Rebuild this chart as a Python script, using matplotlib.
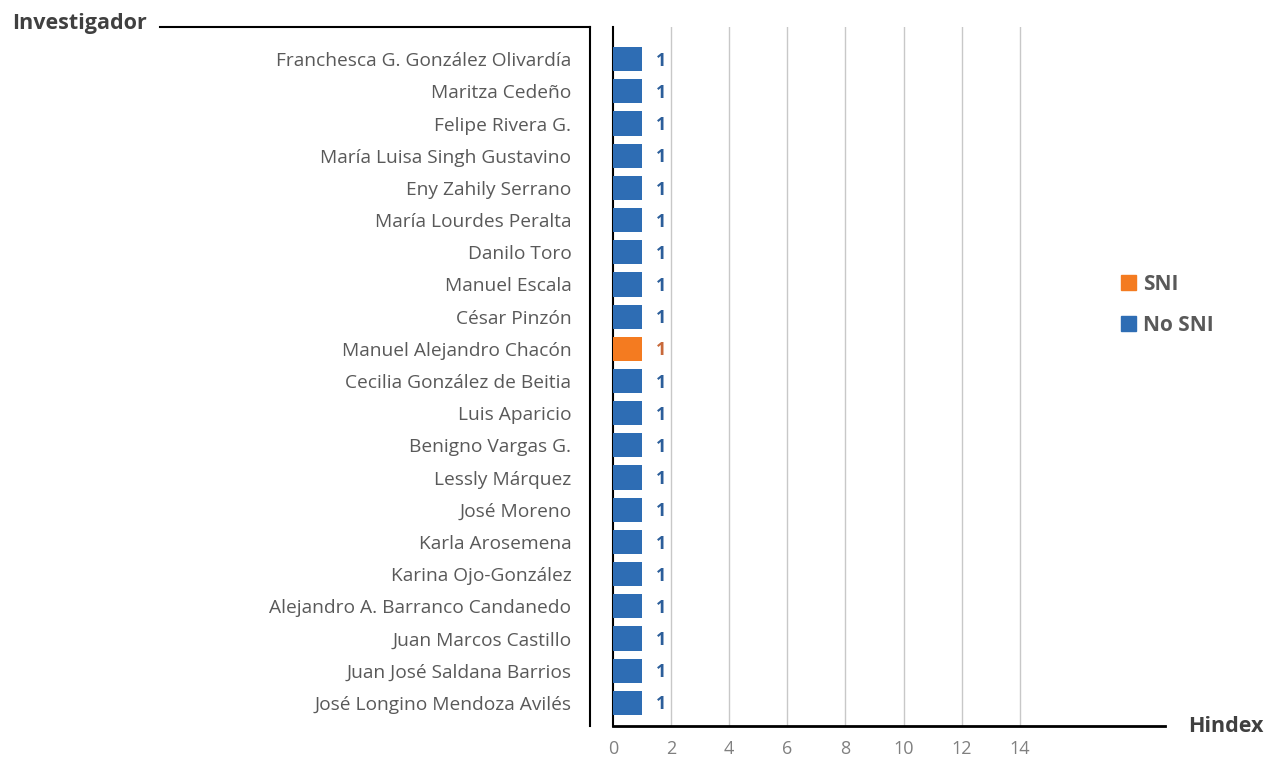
import numpy as np
import matplotlib.pyplot as plt
from matplotlib.lines import Line2D
from matplotlib.patches import Patch

# Datos: investigadores (de arriba hacia abajo), índice H y pertenencia al SNI
investigadores = [
    "Franchesca G. González Olivardía",
    "Maritza Cedeño",
    "Felipe Rivera G.",
    "María Luisa Singh Gustavino",
    "Eny Zahily Serrano",
    "María Lourdes Peralta",
    "Danilo Toro",
    "Manuel Escala",
    "César Pinzón",
    "Manuel Alejandro Chacón",
    "Cecilia González de Beitia",
    "Luis Aparicio",
    "Benigno Vargas G.",
    "Lessly Márquez",
    "José Moreno",
    "Karla Arosemena",
    "Karina Ojo-González",
    "Alejandro A. Barranco Candanedo",
    "Juan Marcos Castillo",
    "Juan José Saldana Barrios",
    "José Longino Mendoza Avilés",
]
hindex = [1, 1, 1, 1, 1, 1, 1, 1, 1, 1, 1, 1, 1, 1, 1, 1, 1, 1, 1, 1, 1]
sni = [False, False, False, False, False, False, False, False, False, True,
       False, False, False, False, False, False, False, False, False, False, False]
xticks = [0, 2, 4, 6, 8, 10, 12, 14]

plt.rcParams['font.family'] = ['Open Sans', 'DejaVu Sans']

azul = '#2E6DB4'
naranja = '#F47B20'
azul_txt = '#2C5E9A'
naranja_txt = '#C8693A'

fig = plt.figure(figsize=(12.66, 7.59), dpi=100)
ax = fig.add_axes([613 / 1266, 1 - 726 / 759, (1165 - 613) / 1266, (726 - 27) / 759])

y = np.arange(len(investigadores))
colores = [naranja if s else azul for s in sni]
ax.barh(y, hindex, height=0.75, color=colores, zorder=3)

for yi, v, s in zip(y, hindex, sni):
    ax.text(v + 0.65, yi + 0.05, str(v), ha='center', va='center', fontsize=13,
            fontweight='bold', color=naranja_txt if s else azul_txt, zorder=4)

ax.set_xlim(0, 19)
ax.set_ylim(20.72, -1.0)
ax.set_yticks(y)
ax.set_yticklabels(investigadores, fontsize=13.8, color='#595959')
ax.tick_params(axis='y', length=0, pad=30)
ax.set_xticks(xticks)
ax.set_xticklabels([str(t) for t in xticks], fontsize=13, color='#808080')
ax.tick_params(axis='x', length=0, pad=10)

for t in xticks[1:]:
    ax.axvline(t, color='#C8C8C8', lw=1, zorder=1)

for s in ['top', 'right']:
    ax.spines[s].set_visible(False)
ax.spines['left'].set_linewidth(1.5)
ax.spines['bottom'].set_linewidth(2)
ax.spines['left'].set_color('black')
ax.spines['bottom'].set_color('black')

# Corchete del título del eje Y
W, H = 1266, 759
fig.add_artist(Line2D([160 / W, 590 / W], [1 - 27 / H, 1 - 27 / H], color='black', lw=1.5))
fig.add_artist(Line2D([590 / W, 590 / W], [1 - 27 / H, 1 - 726 / H], color='black', lw=1.5))

fig.text(12 / W, 1 - 23 / H, "Investigador", fontsize=15.5, fontweight='bold',
         color='#404040', ha='left', va='center')
fig.text(1188 / W, 1 - 726 / H, "Hindex", fontsize=15.5, fontweight='bold',
         color='#404040', ha='left', va='center')

handles = [Patch(color=naranja, label='SNI'), Patch(color=azul, label='No SNI')]
leg = fig.legend(handles=handles, loc='center left', bbox_to_anchor=(1102 / W, 1 - 305 / H),
                 frameon=False, handlelength=0.75, handleheight=0.75, handletextpad=0.3,
                 labelspacing=0.95, prop={'size': 15, 'weight': 'bold'})
for t in leg.get_texts():
    t.set_color('#595959')

fig.savefig('out.png', dpi=100)
